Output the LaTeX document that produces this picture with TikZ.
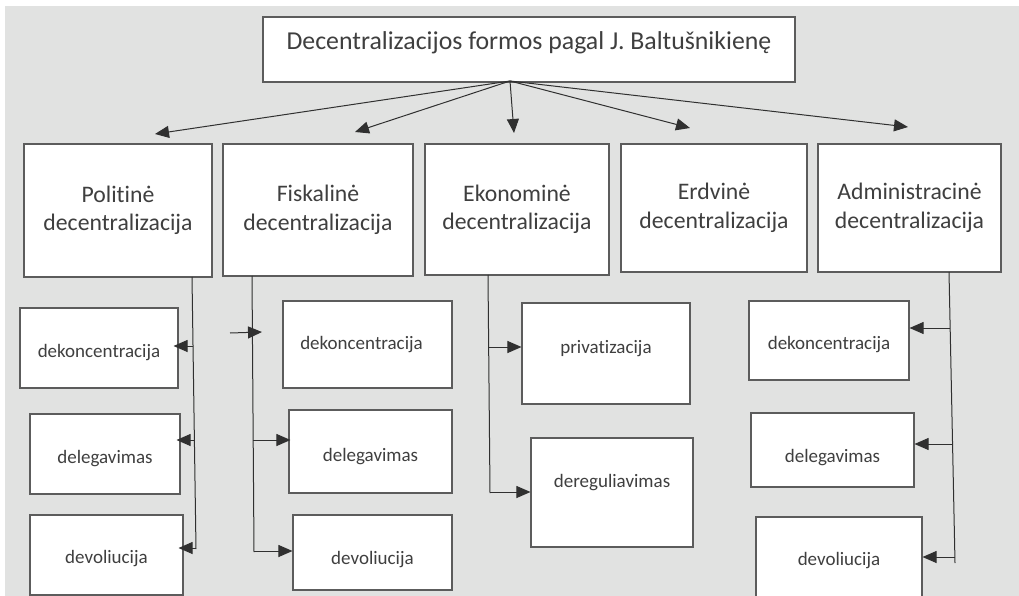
\documentclass[tikz,border=0pt]{standalone}
\usepackage{fontspec}
\setmainfont{Carlito}[Ligatures=NoCommon]
\usetikzlibrary{arrows.meta}
\definecolor{fonas}{HTML}{E1E2E1}
\definecolor{remas}{HTML}{5C5C5C}
\definecolor{linija}{HTML}{303030}
\definecolor{tekstas}{HTML}{3F3F3F}

\begin{document}
\begin{tikzpicture}[x=1pt, y=-1pt,
    forma/.style={draw=remas, fill=white, line width=1.1pt, inner sep=0pt, text=tekstas, align=center},
    lygis/.style={forma, font=\fontsize{23.7}{28.5}\selectfont},
    zodis/.style={text=tekstas, inner sep=0pt, font=\fontsize{19}{23}\selectfont},
    rodykle/.style={draw=linija, line width=1pt, -{Triangle[length=14pt, width=12pt]}},
    magistrale/.style={draw=linija, line width=1pt}]
  \clip (0,0) rectangle (1019,596);
  \fill[fonas] (5,6) rectangle (1019,596);

  % virsutine forma
  \node (title) [forma, minimum width=532pt, minimum height=65pt,
    label={[zodis, font=\fontsize{25.8}{31}\selectfont, yshift=7pt]center:Decentralizacijos formos pagal J. Baltušnikienę}] at (529,49.5) {};

  % decentralizacijos formos
  \node (pol) [lygis, minimum width=188pt, minimum height=133pt] at (118,210.5) {Politinė\\decentralizacija};
  \node (fis) [lygis, minimum width=190pt, minimum height=132pt] at (318,210) {Fiskalinė\\decentralizacija};
  \node (eko) [lygis, minimum width=184pt, minimum height=131pt] at (517,209.5) {Ekonominė\\decentralizacija};
  \node (erd) [lygis, minimum width=186pt, minimum height=128pt] at (714,208) {Erdvinė\\decentralizacija};
  \node (adm) [lygis, minimum width=183pt, minimum height=128pt] at (909.5,208) {Administracinė\\decentralizacija};

  % politine
  \node (poldek) [forma, minimum width=158pt, minimum height=80pt, label={[zodis, yshift=-5pt]center:dekoncentracija}] at (99,348) {};
  \node (poldel) [forma, minimum width=150pt, minimum height=80pt, label={[zodis, yshift=-5pt]center:delegavimas}] at (105,454) {};
  \node (poldev) [forma, minimum width=153pt, minimum height=80pt, label={[zodis, yshift=-4pt]center:devoliucija}] at (106.5,555) {};

  % fiskaline
  \node (fisdek) [forma, minimum width=169pt, minimum height=87pt, label={[zodis, xshift=-6pt]center:dekoncentracija}] at (367.5,344.5) {};
  \node (fisdel) [forma, minimum width=163pt, minimum height=83pt, label={[zodis, yshift=-5pt]center:delegavimas}] at (370.5,451.5) {};
  \node (fisdev) [forma, minimum width=159pt, minimum height=75pt, label={[zodis, yshift=-7pt]center:devoliucija}] at (372.5,552.5) {};

  % ekonomine
  \node (ekopri) [forma, minimum width=168pt, minimum height=101pt, label={[zodis, yshift=5pt]center:privatizacija}] at (606,353.5) {};
  \node (ekoder) [forma, minimum width=162pt, minimum height=109pt, label={[zodis, yshift=10pt]center:dereguliavimas}] at (612,492.5) {};

  % administracine
  \node (admdek) [forma, minimum width=160pt, minimum height=79pt, label={[zodis, yshift=-4.5pt]center:dekoncentracija}] at (829,340.5) {};
  \node (admdel) [forma, minimum width=163pt, minimum height=74pt, label={[zodis, yshift=-8pt]center:delegavimas}] at (832.5,450) {};
  \node (admdev) [forma, minimum width=166pt, minimum height=88pt, label={[zodis]center:devoliucija}] at (839,561) {};

  % rodykliu taskai
  \coordinate (hub) at (510,81);
  \coordinate (pol-in) at (155,134);
  \coordinate (fis-in) at (355,132);
  \coordinate (eko-in) at (514,133);
  \coordinate (erd-in) at (690,128);
  \coordinate (adm-in) at (908,127);

  \coordinate (pol-top) at (192,277);
  \coordinate (pol-bot) at (196,549);
  \coordinate (fis-top) at (252,276);
  \coordinate (fis-bot) at (254,552);
  \coordinate (eko-top) at (488,275);
  \coordinate (eko-bot) at (490,493);
  \coordinate (adm-top) at (949,272);
  \coordinate (adm-bot) at (955,563);

  \coordinate (pola) at (193,346);
  \coordinate (polb) at (194.5,440);
  \coordinate (polc) at (196,548);
  \coordinate (fisb) at (253,440);
  \coordinate (fisc) at (254,551);
  \coordinate (ekoa) at (488.5,347);
  \coordinate (ekob) at (490,492);
  \coordinate (adma) at (950,328);
  \coordinate (admb) at (952,444);
  \coordinate (admc) at (955,557);
  \coordinate (fiss) at (230,333);
  \coordinate (fiss-end) at (262,332);

  \foreach \k in {pol, fis, eko, erd, adm}
    \draw[rodykle] (hub) -- (\k-in);
  \foreach \k in {pol, fis, eko, adm}
    \draw[magistrale] (\k-top) -- (\k-bot);
  \foreach \a/\b/\s/\d in {pola/poldek/east/-5, polb/poldel/east/-4, polc/poldev/east/-5,
      fisb/fisdel/west/-2, fisc/fisdev/west/0, ekoa/ekopri/west/0, ekob/ekoder/west/0,
      adma/admdek/east/0, admb/admdel/east/0, admc/admdev/east/0}
    \draw[rodykle, shorten >=\d pt] (\a) -- (\a -| \b.\s);
  \draw[rodykle] (fiss) -- (fiss-end);
\end{tikzpicture}
\end{document}
